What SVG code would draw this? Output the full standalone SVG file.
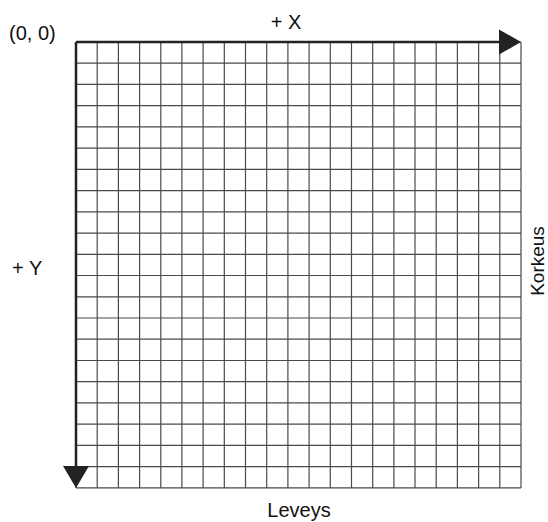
<svg xmlns="http://www.w3.org/2000/svg" width="548" height="522" viewBox="0 0 548 522">
<style>
.grid{stroke:#4a4a4a;stroke-width:1.2;fill:none}
.axis{stroke:#222;stroke-width:2.5;fill:none}
.head{fill:#222}
.lbl{font-family:"Liberation Sans",Arial,sans-serif;font-size:20px;fill:#111}
</style>
<rect width="548" height="522" fill="#fff"/>
<g id="grid">
<path class="grid" d="M76,42V488 M97.2,42V488 M118.4,42V488 M139.6,42V488 M160.8,42V488 M181.9,42V488 M203.1,42V488 M224.3,42V488 M245.5,42V488 M266.7,42V488 M287.9,42V488 M309.1,42V488 M330.3,42V488 M351.5,42V488 M372.7,42V488 M393.9,42V488 M415,42V488 M436.2,42V488 M457.4,42V488 M478.6,42V488 M499.8,42V488 M521,42V488 M76,42H521 M76,63.2H521 M76,84.4H521 M76,105.7H521 M76,126.9H521 M76,148.1H521 M76,169.4H521 M76,190.6H521 M76,211.8H521 M76,233.1H521 M76,254.3H521 M76,275.5H521 M76,296.8H521 M76,318H521 M76,339.2H521 M76,360.5H521 M76,381.7H521 M76,402.9H521 M76,424.1H521 M76,445.4H521 M76,466.6H521 M76,487.8H521"/>
</g>
<g id="connectors">
<g id="x-axis">
<path class="axis" d="M76,42H500"/>
<polygon class="head" points="499,29.5 521,42 499,54.5"/>
</g>
<g id="y-axis">
<path class="axis" d="M76,42V467"/>
<polygon class="head" points="63,466 89,466 76,488"/>
</g>
</g>
<g id="origin"><text class="lbl" x="9" y="40">(0, 0)</text></g>
<g id="label-x"><text class="lbl" x="286" y="29" text-anchor="middle">+ X</text></g>
<g id="label-y"><text class="lbl" x="12" y="275">+ Y</text></g>
<g id="label-width"><text class="lbl" x="299" y="516.5" text-anchor="middle">Leveys</text></g>
<g id="label-height"><text class="lbl" transform="translate(544,261) rotate(-90)" text-anchor="middle" style="font-size:19px">Korkeus</text></g>
</svg>
